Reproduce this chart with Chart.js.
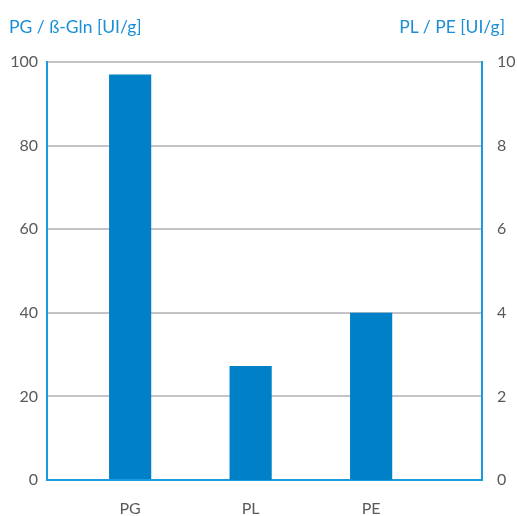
<!DOCTYPE html>
<html>
<head>
<meta charset="utf-8">
<script src="https://cdn.jsdelivr.net/npm/chart.js@4/dist/chart.umd.min.js"></script>
<style>
  html, body { margin: 0; padding: 0; background: #fff; }
  #wrap { position: relative; width: 517px; height: 516px; }
  #c { display: block; }
  .ttl { position: absolute; top: 16px; font: 17.5px Lato, 'Open Sans', sans-serif; color: #1a8fd6; white-space: nowrap; }
  #ttl-left { left: 9px; }
  #ttl-right { right: 12px; }
</style>
</head>
<body>
<div id="wrap">
  <canvas id="c" width="517" height="516"></canvas>
  <div class="ttl" id="ttl-left">PG / ß-Gln [UI/g]</div>
  <div class="ttl" id="ttl-right">PL / PE [UI/g]</div>
</div>
<script>
// data
const categories = ['PG', 'PL', 'PE'];
const leftValues = [97, null, null];      // PG / ß-Gln, left axis 0–100
const rightValues = [null, 2.73, 4.0];    // PL / PE, right axis 0–10
const leftTicks = [0, 20, 40, 60, 80, 100];
const rightTicks = [0, 2, 4, 6, 8, 10];

const BLUE = '#0080c6';
const AXIS_BLUE = '#1a9be0';
const GRID = '#c3c3c8';
const TICK = '#595959';
const FONT = { family: "Lato, 'Open Sans', sans-serif", size: 16 };

// categories sit on a numeric x axis (0,1,2) so the uneven margins of the original can be kept
const toPoints = vals => vals.map((v, i) => ({ x: i, y: v }));

const chart = new Chart(document.getElementById('c'), {
  type: 'bar',
  data: {
    datasets: [
      { data: toPoints(leftValues), yAxisID: 'y', backgroundColor: BLUE },
      { data: toPoints(rightValues), yAxisID: 'y1', backgroundColor: BLUE }
    ]
  },
  options: {
    responsive: false,
    animation: false,
    datasets: { bar: { grouped: false, barPercentage: 0.35, categoryPercentage: 1 } },
    layout: { padding: { top: 62, left: 0, right: 0, bottom: 0 } },
    plugins: { legend: { display: false }, tooltip: { enabled: false } },
    scales: {
      x: {
        type: 'linear',
        offset: false,
        min: -0.69, max: 2.92,
        afterBuildTicks: s => { s.ticks = categories.map((c, i) => ({ value: i })); },
        grid: { display: false, drawTicks: false },
        border: { color: AXIS_BLUE, width: 2 },
        ticks: { color: TICK, font: FONT, padding: 19, callback: v => categories[v] },
        afterFit: s => { s.height = 36; }
      },
      y: {
        position: 'left',
        min: 0, max: 100,
        afterBuildTicks: s => { s.ticks = leftTicks.map(v => ({ value: v })); },
        grid: { color: GRID, lineWidth: 2, drawTicks: false },
        border: { color: AXIS_BLUE, width: 2 },
        ticks: { color: TICK, font: FONT, padding: 9 },
        afterFit: s => { s.width = 47; }
      },
      y1: {
        position: 'right',
        min: 0, max: 10,
        afterBuildTicks: s => { s.ticks = rightTicks.map(v => ({ value: v })); },
        grid: { display: false, drawTicks: false },
        border: { color: AXIS_BLUE, width: 2 },
        ticks: { color: TICK, font: FONT, padding: 15 },
        afterFit: s => { s.width = 35; }
      }
    }
  }
});
</script>
</body>
</html>
